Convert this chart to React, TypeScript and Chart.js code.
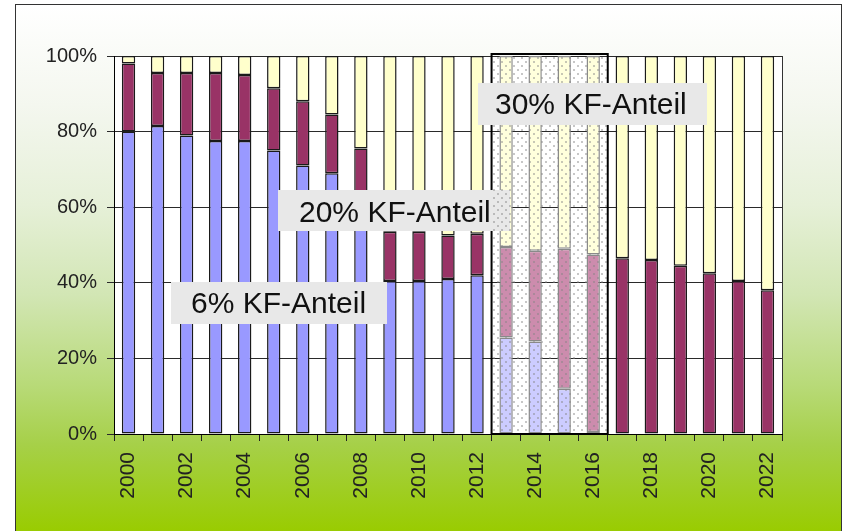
import React, { useEffect, useRef } from 'react';
import { Chart, registerables } from 'chart.js';

Chart.register(...registerables);

// ---- data ----
const years = [
  '2000', '2001', '2002', '2003', '2004', '2005', '2006', '2007', '2008', '2009', '2010', '2011',
  '2012', '2013', '2014', '2015', '2016', '2017', '2018', '2019', '2020', '2021', '2022',
];
const blueShare = [80, 81.5, 79, 77.5, 77.5, 75, 71, 69, 59, 40.5, 40.5, 41, 42, 25.5, 24.5, 12, 0.5, 0, 0, 0, 0, 0, 0];
const magentaShare = [18, 14, 16.5, 18, 17.5, 16.5, 17, 15.5, 16.5, 13, 13, 11.5, 11, 24, 24, 37, 47, 46.5, 46, 44.5, 42.5, 40.5, 38];
const yellowShare = [2, 4.5, 4.5, 4.5, 5, 8.5, 12, 15.5, 24.5, 46.5, 46.5, 47.5, 47, 50.5, 51.5, 51, 52.5, 53.5, 54, 55.5, 57.5, 59.5, 62];
const yTickValues = [0, 20, 40, 60, 80, 100];
const highlightYears = ['2013', '2014', '2015', '2016'];
const labelTexts = ['6% KF-Anteil', '20% KF-Anteil', '30% KF-Anteil'];

// ---- styles ----
const COLORS = {
  blue: '#9999ff',
  magenta: '#993366',
  yellow: '#ffffcc',
  blueLight: '#ccccff',
  magentaLight: '#cc8cad',
  yellowLight: '#ffffdc',
};
const FONT = "'Liberation Sans', Arial, sans-serif";

// label boxes in canvas pixels: [x, y, w, h, textX, baseline]
const labelBoxes: number[][] = [
  [171, 282, 216, 42, 191, 313],
  [278, 190, 232, 41, 299, 222],
  [478, 83, 229, 42, 495, 114],
];

const inHighlight = (i: number) => highlightYears.includes(years[i]);

function makeDotPattern(ctx: CanvasRenderingContext2D) {
  const pc = document.createElement('canvas');
  pc.width = 8;
  pc.height = 8;
  const p = pc.getContext('2d')!;
  p.fillStyle = 'rgba(130,130,130,0.45)';
  p.fillRect(1, 1, 2, 2);
  p.fillRect(5, 5, 2, 2);
  return ctx.createPattern(pc, 'repeat');
}

export default function App() {
  const ref = useRef<HTMLCanvasElement | null>(null);

  useEffect(() => {
    const canvas = ref.current!;
    const ctx0 = canvas.getContext('2d')!;
    const dots = makeDotPattern(ctx0);

    const highlightRect = (chart: any) => {
      const x = chart.scales.x;
      const first = years.indexOf(highlightYears[0]);
      const last = years.indexOf(highlightYears[highlightYears.length - 1]);
      const x0 = (x.getPixelForValue(first) + x.getPixelForValue(first - 1)) / 2;
      const x1 = (x.getPixelForValue(last) + x.getPixelForValue(last + 1)) / 2;
      return { x0, x1, y0: chart.chartArea.top - 2, y1: chart.chartArea.bottom };
    };

    const decor = {
      id: 'decor',
      beforeDraw(chart: any) {
        const { ctx, chartArea: a } = chart;
        ctx.save();
        ctx.fillStyle = '#ffffff';
        ctx.fillRect(a.left, a.top, a.right - a.left, a.bottom - a.top);
        ctx.restore();
      },
      afterDatasetsDraw(chart: any) {
        const { ctx, chartArea: a } = chart;
        const r = highlightRect(chart);
        ctx.save();
        // right frame of plot area
        ctx.strokeStyle = '#333';
        ctx.lineWidth = 1;
        ctx.beginPath();
        ctx.moveTo(Math.round(a.right) + 0.5, a.top);
        ctx.lineTo(Math.round(a.right) + 0.5, a.bottom);
        ctx.stroke();
        // dotted overlay of the highlighted period
        if (dots) {
          ctx.fillStyle = dots;
          ctx.fillRect(r.x0, r.y0, r.x1 - r.x0, r.y1 - r.y0);
        }
        ctx.strokeStyle = '#000';
        ctx.lineWidth = 2;
        ctx.strokeRect(r.x0, r.y0, r.x1 - r.x0, r.y1 - r.y0);
        ctx.restore();
      },
      afterDraw(chart: any) {
        const { ctx } = chart;
        const r = highlightRect(chart);
        ctx.save();
        labelBoxes.forEach((b, i) => {
          ctx.fillStyle = '#e8e8e8';
          ctx.fillRect(b[0], b[1], b[2], b[3]);
          if (i === 1 && dots) {
            const ix0 = Math.max(b[0], r.x0 + 1);
            const ix1 = Math.min(b[0] + b[2], r.x1);
            if (ix1 > ix0) {
              ctx.fillStyle = dots;
              ctx.fillRect(ix0, b[1], ix1 - ix0, b[3]);
            }
          }
          ctx.fillStyle = '#111';
          ctx.font = `30px ${FONT}`;
          ctx.textBaseline = 'alphabetic';
          ctx.textAlign = 'left';
          ctx.fillText(labelTexts[i], b[4], b[5]);
        });
        ctx.restore();
      },
    };

    const bg = (normal: string, light: string) => (c: any) => (inHighlight(c.dataIndex) ? light : normal);
    const bc = (c: any) => (inHighlight(c.dataIndex) ? '#8a8a8a' : '#1a1a1a');

    const chart = new Chart(canvas, {
      type: 'bar',
      data: {
        labels: years,
        datasets: [
          { label: 'A', data: blueShare, backgroundColor: bg(COLORS.blue, COLORS.blueLight) as any, borderColor: bc as any },
          { label: 'B', data: magentaShare, backgroundColor: bg(COLORS.magenta, COLORS.magentaLight) as any, borderColor: bc as any },
          { label: 'C', data: yellowShare, backgroundColor: bg(COLORS.yellow, COLORS.yellowLight) as any, borderColor: bc as any },
        ],
      },
      options: {
        animation: false,
        responsive: false,
        devicePixelRatio: 1,
        layout: { padding: { left: 0, top: 56, right: 62, bottom: 0 } },
        datasets: {
          bar: { barPercentage: 0.46, categoryPercentage: 1, borderWidth: 1.5, borderSkipped: false },
        },
        plugins: { legend: { display: false }, tooltip: { enabled: false }, title: { display: false } },
        scales: {
          x: {
            stacked: true,
            offset: true,
            grid: { display: true, drawOnChartArea: false, drawTicks: true, tickLength: 7, color: '#222', offset: true },
            border: { display: true, color: '#000', width: 1 },
            ticks: {
              autoSkip: false,
              maxRotation: 90,
              minRotation: 90,
              padding: 11,
              color: '#222',
              font: { family: FONT, size: 21 },
              callback: (_v: any, i: number) => (i % 2 === 0 ? years[i] : ''),
            },
            afterFit: (s: any) => {
              s.height = 531 - 434;
            },
          },
          y: {
            stacked: true,
            min: 0,
            max: 100,
            grid: { color: '#2a2a2a', tickLength: 7, drawTicks: true },
            border: { display: true, color: '#000', width: 1 },
            afterBuildTicks: (s: any) => {
              s.ticks = yTickValues.map((v) => ({ value: v }));
            },
            ticks: {
              padding: 10,
              color: '#222',
              font: { family: FONT, size: 20 },
              callback: (v: any) => `${v}%`,
            },
            afterFit: (s: any) => {
              s.width = 114;
            },
          },
        },
      },
      plugins: [decor],
    });

    return () => chart.destroy();
  }, []);

  return (
    <div style={{ position: 'fixed', left: 0, top: 0, width: 844, height: 531, overflow: 'hidden', background: '#fff' }}>
      <div
        style={{
          position: 'absolute',
          left: 15,
          top: 4,
          width: 825,
          height: 560,
          border: '1px solid #333',
          background:
            'linear-gradient(to bottom, #ffffff 0px, #f4f7ef 100px, #e6f0d8 200px, #d2e6b4 290px, #b8da78 380px, #a6d048 440px, #99cc00 527px)',
        }}
      />
      <canvas ref={ref} width={844} height={531} style={{ position: 'absolute', left: 0, top: 0, width: 844, height: 531 }} />
    </div>
  );
}
